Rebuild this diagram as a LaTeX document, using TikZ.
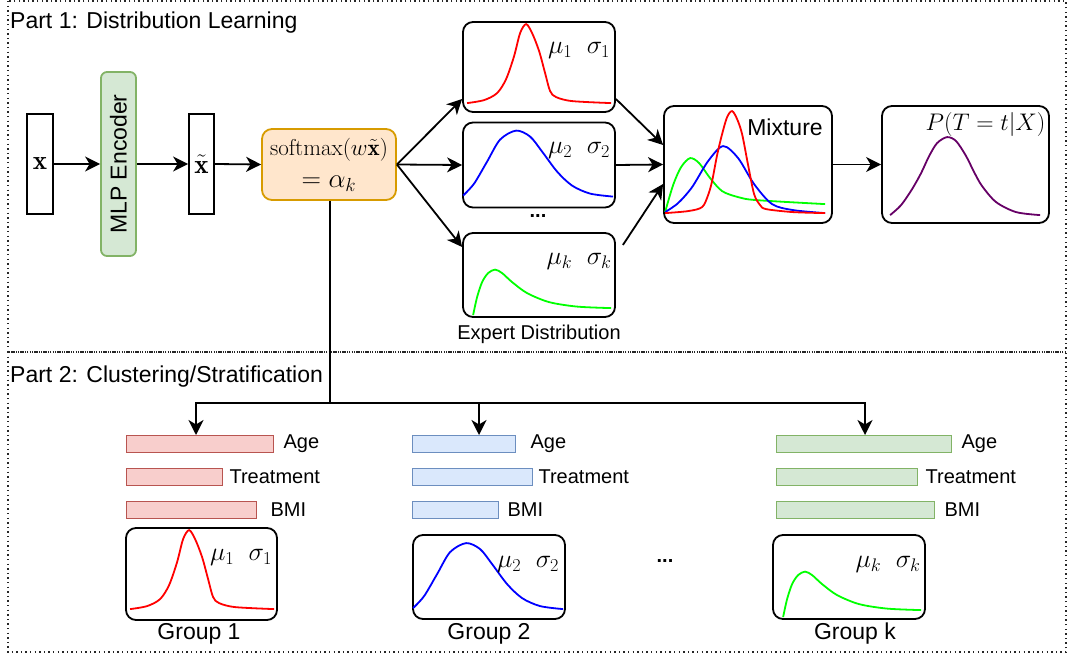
\RequirePackage{fix-cm}
\documentclass[tikz,border=0pt]{standalone}
\usepackage{amsmath}
\usepackage{fontspec}
\newfontfamily\arialfont{Liberation Sans}
\usepackage{tikz}
\usetikzlibrary{positioning,calc}
\usetikzlibrary{arrows.meta}
\definecolor{redfill}{HTML}{F8CECC}
\definecolor{redline}{HTML}{B85450}
\definecolor{bluefill}{HTML}{DAE8FC}
\definecolor{blueline}{HTML}{6C8EBF}
\definecolor{greenfill}{HTML}{D5E8D4}
\definecolor{greenline}{HTML}{82B366}
\definecolor{orangefill}{HTML}{FFE6CC}
\definecolor{orangeline}{HTML}{D79B00}
\definecolor{mixpurple}{HTML}{660066}
\tikzstyle{arrow} = [line width=1.8pt,-{Stealth[length=15pt,width=15pt,inset=4.5pt]}]
\tikzset{
  curve/.style={line width=1.8pt},
  redpdf/.pic={\draw[curve,red] plot[smooth] coordinates {(5,82) (22,79) (35,72) (44,58) (52,35) (58,12) (64,3) (70,12) (77,30) (83,52) (88,70) (94,76) (110,80) (149,82)};},
  bluepdf/.pic={\draw[curve,blue] plot[smooth] coordinates {(1,74) (12,62) (25,40) (38,18) (54,9) (68,15) (80,30) (95,50) (110,64) (128,72) (151,75)};},
  greenpdf/.pic={\draw[curve,green] plot[smooth] coordinates {(11,83) (15,65) (20,50) (26,41) (33,37.5) (40,41) (50,50) (65,61) (87,70) (115,74.5) (149,76)};}
}

\begin{document}
\begin{tikzpicture}[x=1pt,y=-1pt,
  sans/.style={font=\arialfont\fontsize{20}{24}\selectfont, inner sep=0},
  bigsans/.style={font=\arialfont\fontsize{23}{27}\selectfont, inner sep=0},
  mathtxt/.style={font=\fontsize{26}{30}\selectfont, inner sep=0},
  part/.style={draw=black!85, line width=1.2pt, dash pattern=on 1.4pt off 3.2pt},
  vecbox/.style={draw, line width=1.8pt, minimum width=26pt, minimum height=100pt, inner sep=0, font=\fontsize{27}{30}\selectfont},
  distbox/.style={draw, line width=1.8pt, rounded corners=10pt, minimum width=152pt, minimum height=#1, inner sep=0},
  bar/.style args={#1/#2}{draw=#1line, fill=#1fill, line width=1.4pt, minimum width=#2, minimum height=17pt, inner sep=0, anchor=west}]

	\useasboundingbox (0,0) rectangle (1068,655);
	\draw[part] (8,1) rectangle (1066,352);
	\draw[part] (8,352) rectangle (1066,652);

	% PART 1
	\node[bigsans, anchor=west] (part1) at (10,23) {Part 1: Distribution Learning};

	\node[vecbox] (x) at (40,164) {$\mathbf{x}$};
	\node[draw=greenline, fill=greenfill, line width=1.8pt, rounded corners=6pt, rotate=90, minimum width=184pt, minimum height=35pt, inner sep=0, bigsans] (mlp) at (118.5,164) {MLP Encoder};
	\node[vecbox, minimum width=25pt] (xt) at (201.5,164) {$\tilde{\mathbf{x}}$};
	\node[draw=orangeline, fill=orangefill, line width=1.8pt, rounded corners=10pt, minimum width=134pt, minimum height=71pt, inner sep=0, align=center, font=\fontsize{23}{32}\selectfont] (soft) at (329,164.5)
	{$\mathrm{softmax}(w\tilde{\mathbf{x}})$\\{\fontsize{27}{32}\selectfont$=\alpha_k$}};

	\node[distbox=90pt] (e1) at (539,67) {};
	\node[distbox=85pt] (e2) at (539,165) {};
	\node[distbox=84pt] (ek) at (539,275) {};
	\pic at (e1.north west) {redpdf};
	\pic at (e2.north west) {bluepdf};
	\pic at (ek.north west) {greenpdf};
	\node[mathtxt] (e1lbl) at ($(e1.north west)+(117,29)$) {$\mu_1\;\;\sigma_1$};
	\node[mathtxt] (e2lbl) at ($(e2.north west)+(117,29)$) {$\mu_2\;\;\sigma_2$};
	\node[mathtxt] (eklbl) at ($(ek.north west)+(117,29)$) {$\mu_k\;\;\sigma_k$};
	\node[sans] (edots) at (538,216) {\textbf{...}};
	\node[sans] (elabel) at (539,334) {Expert Distribution};

	\node[distbox=117pt, minimum width=168pt] (mix) at (748,164.5) {};
	\begin{scope}[shift={(mix.north west)}]
		\draw[curve,green] plot[smooth] coordinates {(2,107) (10,80) (18,62) (27,53) (36,58) (47,73) (59,86) (75,92) (93,95) (162,99)};
		\draw[curve,blue] plot[smooth] coordinates {(2,107) (15,98) (29,82) (45,56) (60,41) (75,53) (91,79) (109,99) (130,105) (162,108)};
		\draw[curve,red] plot[smooth] coordinates {(2,108) (25,106) (39,102) (45,90) (49,76) (54,50) (59,29) (64,12) (69,6) (74,14) (79,29) (85,60) (91,89) (97,100) (103,104) (130,107) (162,108)};
	\end{scope}
	\node[bigsans] (mixlbl) at (785,127) {Mixture};

	\node[distbox=117pt, minimum width=167pt] (post) at (965.5,164.5) {};
	\begin{scope}[shift={(post.north west)}]
		\draw[curve,mixpurple] plot[smooth] coordinates {(9,110) (20,100) (31,84) (40,68) (48,51) (56,38) (66,32) (75,36) (85,51) (93,67) (101,81) (115,97) (135,107) (159,110)};
	\end{scope}
	\node[mathtxt, font=\fontsize{24}{28}\selectfont] (postlbl) at (985.5,125) {$P(T=t|X)$};

	\draw[arrow] (x.east) -- (mlp.north);
	\draw[arrow] (mlp.south) -- (xt.west);
	\draw[arrow] (xt.east) -- (soft.west);
	\draw[arrow] (soft.east) -- ([yshift=-32pt]e1.west);
	\draw[arrow] (soft.east) -- (e2.west);
	\draw[arrow] (soft.east) -- ([yshift=28pt]ek.west);
	\draw[arrow] ([yshift=-32pt]e1.east) -- ([yshift=19.5pt]mix.west);
	\draw[arrow] (e2.east) -- (mix.west);
	\draw[arrow] ([xshift=7pt,yshift=30pt]ek.east) -- ([yshift=-19.5pt]mix.west);
	\draw[arrow] (mix.east) -- (post.west);

	% PART 2
	\node[bigsans, anchor=west] (part2) at (10,377) {Part 2: Clustering/Stratification};

	\node[bar=red/147pt] (rage) at (126,444) {};
	\node[bar=red/96pt] (rtreat) at (126,477) {};
	\node[bar=red/130pt] (rbmi) at (126,510) {};
	\node[sans, right=9pt of rage] (rage-l) {Age};
	\node[sans, right=6pt of rtreat] (rtreat-l) {Treatment};
	\node[sans, right=13pt of rbmi] (rbmi-l) {BMI};

	\node[bar=blue/103pt] (bage) at (412,444) {};
	\node[bar=blue/120pt] (btreat) at (412,477) {};
	\node[bar=blue/86pt] (bbmi) at (412,510) {};
	\node[sans, right=14pt of bage] (bage-l) {Age};
	\node[sans, right=5pt of btreat] (btreat-l) {Treatment};
	\node[sans, right=8pt of bbmi] (bbmi-l) {BMI};

	\node[bar=green/175pt] (gage) at (776,444) {};
	\node[bar=green/141pt] (gtreat) at (776,477) {};
	\node[bar=green/158pt] (gbmi) at (776,510) {};
	\node[sans, right=9pt of gage] (gage-l) {Age};
	\node[sans, right=7pt of gtreat] (gtreat-l) {Treatment};
	\node[sans, right=9pt of gbmi] (gbmi-l) {BMI};

	\node[distbox=92pt, minimum width=151pt] (g1) at (201.5,574) {};
	\node[distbox=84pt] (g2) at (489,577) {};
	\node[distbox=84pt] (gk) at (849,577) {};
	\pic at (g1.north west) {redpdf};
	\pic at (g2.north west) {bluepdf};
	\pic at (gk.north west) {greenpdf};
	\node[mathtxt] (g1lbl) at ($(g1.north west)+(116,30)$) {$\mu_1\;\;\sigma_1$};
	\node[mathtxt] (g2lbl) at ($(g2.north west)+(116,30)$) {$\mu_2\;\;\sigma_2$};
	\node[mathtxt] (gklbl) at ($(gk.north west)+(116,30)$) {$\mu_k\;\;\sigma_k$};
	\node[sans] (gdots) at (665,561) {\textbf{...}};
	\node[bigsans] (g1name) at (199,634) {Group 1};
	\node[bigsans] (g2name) at (489,634) {Group 2};
	\node[bigsans] (gkname) at (855,634) {Group k};

	\coordinate (hub) at (330,403);
	\coordinate (in1) at (196,435);
	\coordinate (in2) at (479,435);
	\coordinate (ink) at (865,435);
	\draw[line width=1.8pt] (soft.south -| hub) -- (hub);
	\draw[arrow] (hub) -| (in1);
	\draw[arrow] (hub) -| (in2);
	\draw[arrow] (hub) -| (ink);

\end{tikzpicture}
\end{document}
